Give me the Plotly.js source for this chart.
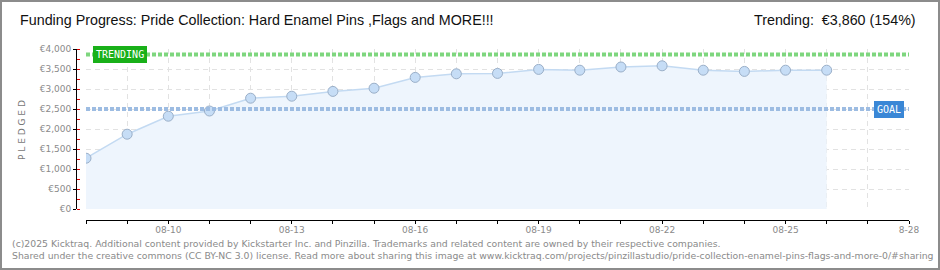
<!DOCTYPE html>
<html>
<head>
<meta charset="utf-8">
<script src="https://cdn.plot.ly/plotly-3.0.1.min.js"></script>
<style>
  html, body { margin: 0; padding: 0; background: #fff; }
  #wrap { width: 936px; height: 266px; border: 2px solid #8c8c8c; }
</style>
</head>
<body>
<div id="wrap"><div id="chart"></div></div>
<script>
// ---- data ----
const dates = ['2025-08-08','2025-08-09','2025-08-10','2025-08-11','2025-08-12','2025-08-13','2025-08-14',
  '2025-08-15','2025-08-16','2025-08-17','2025-08-18','2025-08-19','2025-08-20','2025-08-21',
  '2025-08-22','2025-08-23','2025-08-24','2025-08-25','2025-08-26'];
const pledged = [1270, 1870, 2320, 2450, 2770, 2820, 2940, 3020, 3290, 3380, 3390, 3490, 3470, 3550,
  3580, 3470, 3440, 3470, 3470];
const goalValue = 2500;
const trendingValue = 3860;
const xTickDates = ['2025-08-08','2025-08-09','2025-08-10','2025-08-11','2025-08-12','2025-08-13','2025-08-14',
  '2025-08-15','2025-08-16','2025-08-17','2025-08-18','2025-08-19','2025-08-20','2025-08-21',
  '2025-08-22','2025-08-23','2025-08-24','2025-08-25','2025-08-26','2025-08-27','2025-08-28'];
const xTickLabels = ['','','08-10','','','08-13','','','08-16','','','08-19','','','08-22','','','08-25','','','8-28'];
const yTickVals = [0,500,1000,1500,2000,2500,3000,3500,4000];
const yTickLabels = ['€0','€500','€1,000','€1,500','€2,000','€2,500','€3,000','€3,500','€4,000'];
const titleText = 'Funding Progress: Pride Collection: Hard Enamel Pins ,Flags and MORE!!!';
const trendText = 'Trending:  €3,860 (154%)';
const footer1 = '(c)2025 Kicktraq. Additional content provided by Kickstarter Inc. and Pinzilla. Trademarks and related content are owned by their respective companies.';
const footer2 = 'Shared under the creative commons (CC BY-NC 3.0) license. Read more about sharing this image at www.kicktraq.com/projects/pinzillastudio/pride-collection-enamel-pins-flags-and-more-0/#sharing';

// page px -> paper helpers (paper spans page x 76..909, y 49..220)
const px = p => (p - 76) / 833;
const py = q => (220 - q) / 171;

const tickFont = {family: 'DejaVu Sans', size: 9, color: '#8a8a8a'};

const traces = [{
  x: dates, y: pledged, type: 'scatter', mode: 'lines+markers',
  fill: 'tozeroy', fillcolor: '#EEF5FD',
  line: {color: '#C3DAF2', width: 1.5},
  marker: {size: 10, color: '#C6DDF6', line: {color: '#9AAFC8', width: 1}},
  hoverinfo: 'skip'
}];

const layout = {
  width: 936, height: 266,
  margin: {l: 74, r: 29, t: 47, b: 48},
  paper_bgcolor: '#fff', plot_bgcolor: 'rgba(0,0,0,0)',
  showlegend: false,
  xaxis: {
    type: 'date', domain: [px(86), 1], anchor: 'free', position: 0,
    range: ['2025-08-08', '2025-08-28'],
    tickvals: xTickDates, ticktext: xTickLabels,
    ticks: 'outside', ticklen: 3, tickcolor: '#000', tickwidth: 1,
    ticklabelstandoff: -2,
    showline: true, linecolor: '#000', linewidth: 1,
    showgrid: true, gridcolor: '#e2e2e2', griddash: '5px,4px', gridwidth: 1,
    zeroline: false, tickfont: tickFont
  },
  yaxis: {
    domain: [py(209), 1], anchor: 'free', position: 0,
    range: [0, 4000],
    tickvals: yTickVals, ticktext: yTickLabels,
    ticks: 'outside', ticklen: 3, tickcolor: '#000', tickwidth: 1,
    minor: {dtick: 250, ticks: 'inside', ticklen: 3, tickcolor: '#e00000', showgrid: false},
    showline: true, linecolor: '#000', linewidth: 1,
    showgrid: true, gridcolor: '#e2e2e2', griddash: '5px,4px', gridwidth: 1,
    zeroline: false, tickfont: tickFont
  },
  shapes: [
    {type: 'line', xref: 'paper', yref: 'y', x0: px(86), x1: 1, y0: trendingValue, y1: trendingValue,
     line: {color: '#7ED67E', width: 4, dash: '4px,2px'}, layer: 'above'},
    {type: 'line', xref: 'paper', yref: 'y', x0: px(86), x1: 1, y0: goalValue, y1: goalValue,
     line: {color: '#9DBCE2', width: 4, dash: '4px,2px'}, layer: 'above'}
  ],
  annotations: [
    {xref: 'paper', yref: 'paper', x: px(18), y: py(20), xanchor: 'left', yanchor: 'middle',
     text: titleText, showarrow: false,
     font: {family: 'Liberation Sans', size: 14.3, color: '#111'}},
    {xref: 'paper', yref: 'paper', x: px(918), y: py(20), xanchor: 'right', yanchor: 'middle',
     text: trendText, showarrow: false,
     font: {family: 'Liberation Sans', size: 14.3, color: '#111'}},
    {xref: 'paper', yref: 'paper', x: px(22), y: py(130), xanchor: 'center', yanchor: 'middle',
     text: 'P L E D G E D', textangle: -90, showarrow: false,
     font: {family: 'DejaVu Sans', size: 9, color: '#777'}},
    {xref: 'paper', yref: 'y', x: px(93), y: trendingValue, xanchor: 'left', yanchor: 'middle',
     text: 'TRENDING', showarrow: false, bgcolor: '#19B019', bordercolor: '#19B019', borderpad: 2,
     font: {family: 'DejaVu Sans Mono', size: 10, color: '#fff'}},
    {xref: 'paper', yref: 'y', x: px(904), y: goalValue, xanchor: 'right', yanchor: 'middle',
     text: 'GOAL', showarrow: false, bgcolor: '#3A87D6', bordercolor: '#3A87D6', borderpad: 2,
     font: {family: 'DejaVu Sans Mono', size: 10, color: '#fff'}},
    {xref: 'paper', yref: 'paper', x: px(10), y: py(243), xanchor: 'left', yanchor: 'middle',
     text: footer1, showarrow: false,
     font: {family: 'DejaVu Sans', size: 9.3, color: '#8a8a8a'}},
    {xref: 'paper', yref: 'paper', x: px(10), y: py(255), xanchor: 'left', yanchor: 'middle',
     text: footer2, showarrow: false,
     font: {family: 'DejaVu Sans', size: 9.3, color: '#8a8a8a'}}
  ]
};

Plotly.newPlot('chart', traces, layout, {displayModeBar: false, staticPlot: true});
</script>
</body>
</html>
